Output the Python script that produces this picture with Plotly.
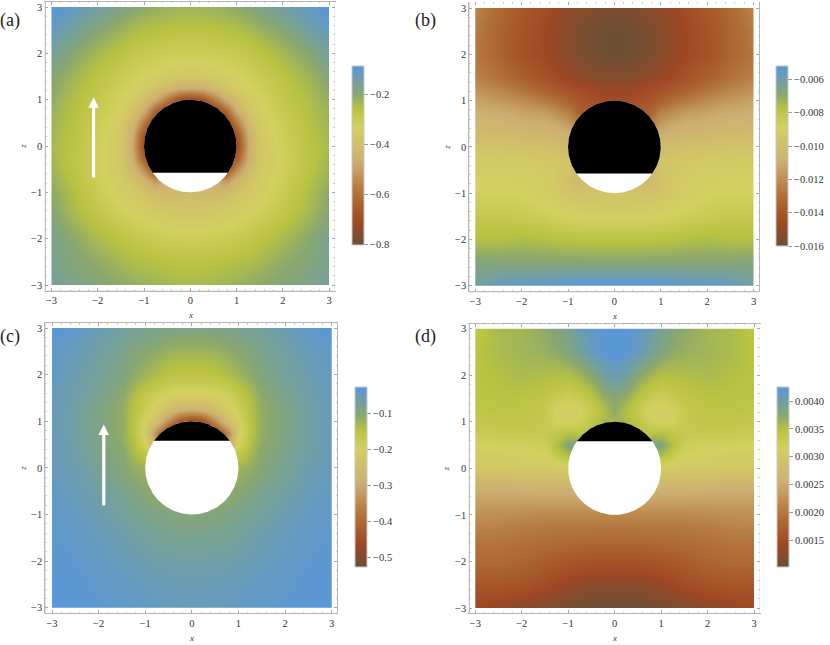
import numpy as np
import plotly.graph_objects as go

X_HALF = [0, .25, .5, .75, 1, 1.25, 1.5, 2, 2.5, 3]
Z_ROWS = [3, 2.5, 2, 1.5, 1.25, 1, .75, .5, .25, 0, -.25, -.5, -.75, -1, -1.25, -1.5, -2, -2.5, -3]

PANEL_A = [
 [-.225,-.225,-.22,-.215,-.205,-.195,-.18,-.145,-.115,-.085],
 [-.265,-.265,-.26,-.255,-.25,-.24,-.225,-.195,-.155,-.115],
 [-.31,-.31,-.305,-.30,-.29,-.28,-.265,-.235,-.20,-.155],
 [-.37,-.365,-.355,-.34,-.33,-.315,-.30,-.265,-.23,-.19],
 [-.47,-.46,-.42,-.38,-.35,-.33,-.315,-.275,-.24,-.20],
 [-.72,-.68,-.58,-.47,-.40,-.35,-.33,-.285,-.25,-.21],
 [-.75,-.75,-.75,-.64,-.47,-.38,-.34,-.295,-.255,-.22],
 [-.75,-.75,-.75,-.75,-.58,-.42,-.355,-.305,-.26,-.225],
 [-.75,-.75,-.75,-.75,-.68,-.46,-.365,-.31,-.265,-.23],
 [-.75,-.75,-.75,-.75,-.72,-.47,-.37,-.315,-.27,-.235],
 [-.75,-.75,-.75,-.75,-.66,-.46,-.37,-.32,-.275,-.23],
 [-.72,-.72,-.72,-.70,-.54,-.42,-.365,-.32,-.27,-.225],
 [-.44,-.44,-.44,-.52,-.44,-.38,-.355,-.31,-.26,-.215],
 [-.42,-.42,-.43,-.41,-.38,-.36,-.345,-.30,-.25,-.205],
 [-.39,-.39,-.385,-.375,-.36,-.345,-.33,-.29,-.245,-.20],
 [-.365,-.365,-.36,-.35,-.34,-.325,-.31,-.275,-.235,-.19],
 [-.31,-.31,-.305,-.30,-.29,-.28,-.265,-.24,-.205,-.17],
 [-.265,-.265,-.26,-.255,-.25,-.245,-.235,-.21,-.19,-.165],
 [-.235,-.235,-.23,-.225,-.22,-.21,-.205,-.19,-.175,-.155],
]

PANEL_B_MILLI = [
 [-15.5,-15.5,-15.4,-15.2,-15,-14.7,-14.4,-13.9,-13.2,-12.3],
 [-15.9,-15.85,-15.7,-15.5,-15.2,-14.9,-14.6,-14.1,-13.4,-12.6],
 [-15.9,-15.85,-15.7,-15.5,-15.2,-14.9,-14.6,-14.2,-13.4,-12.7],
 [-15.3,-15.3,-15.2,-15,-14.8,-14.5,-14.2,-13.6,-12.9,-12.4],
 [-14.8,-14.8,-14.6,-14.4,-14.2,-13.9,-13.6,-12.9,-12.3,-11.9],
 [-14.4,-14.4,-14.2,-14,-13.5,-13,-12.6,-12,-11.6,-11.3],
 [-14,-14,-14,-13.5,-12.4,-12,-11.6,-11.3,-11,-10.9],
 [-13,-13,-13,-12.5,-11.6,-11.1,-10.9,-10.8,-10.6,-10.5],
 [-11.5,-11.5,-11.5,-11,-10.8,-10.5,-10.4,-10.3,-10.2,-10.1],
 [-10.6,-10.6,-10.6,-10.4,-10.2,-10,-9.9,-9.8,-9.7,-9.7],
 [-10,-10,-10,-9.9,-9.7,-9.6,-9.5,-9.4,-9.4,-9.3],
 [-10,-10,-10,-10,-9.7,-9.4,-9.2,-9.1,-9.1,-9.1],
 [-10,-10,-10,-10.3,-9.8,-9.4,-9.1,-9,-8.9,-8.9],
 [-9.6,-9.6,-9.7,-9.8,-9.6,-9.3,-9.1,-8.9,-8.8,-8.8],
 [-9.4,-9.4,-9.4,-9.4,-9.2,-9,-8.9,-8.6,-8.5,-8.5],
 [-9,-9,-9,-9,-8.9,-8.8,-8.6,-8.4,-8.3,-8.2],
 [-7.9,-7.9,-7.9,-7.9,-7.8,-7.8,-7.7,-7.6,-7.7,-7.7],
 [-6.8,-6.8,-6.8,-6.8,-6.8,-6.8,-6.8,-6.8,-6.8,-6.7],
 [-5.2,-5.2,-5.2,-5.25,-5.3,-5.35,-5.4,-5.5,-5.7,-6.1],
]

PANEL_C = [
 [-.09,-.09,-.088,-.085,-.08,-.075,-.07,-.055,-.04,-.028],
 [-.125,-.124,-.12,-.113,-.105,-.098,-.085,-.068,-.052,-.04],
 [-.155,-.155,-.15,-.14,-.125,-.11,-.095,-.075,-.06,-.045],
 [-.215,-.215,-.205,-.195,-.17,-.14,-.11,-.085,-.065,-.05],
 [-.30,-.285,-.25,-.21,-.185,-.145,-.115,-.09,-.07,-.05],
 [-.46,-.43,-.34,-.25,-.20,-.15,-.115,-.09,-.07,-.05],
 [-.50,-.50,-.47,-.36,-.215,-.15,-.115,-.09,-.07,-.05],
 [-.50,-.50,-.50,-.30,-.195,-.14,-.11,-.088,-.068,-.05],
 [-.15,-.15,-.15,-.16,-.155,-.13,-.105,-.085,-.065,-.05],
 [-.12,-.12,-.12,-.12,-.125,-.115,-.10,-.08,-.06,-.05],
 [-.11,-.11,-.11,-.115,-.115,-.105,-.095,-.073,-.057,-.047],
 [-.105,-.105,-.105,-.105,-.105,-.095,-.085,-.068,-.054,-.045],
 [-.105,-.105,-.105,-.105,-.095,-.088,-.078,-.063,-.05,-.042],
 [-.098,-.098,-.096,-.092,-.086,-.08,-.072,-.058,-.047,-.04],
 [-.09,-.09,-.088,-.084,-.078,-.072,-.066,-.054,-.044,-.038],
 [-.082,-.082,-.08,-.077,-.072,-.066,-.06,-.05,-.042,-.036],
 [-.068,-.068,-.066,-.064,-.06,-.056,-.052,-.045,-.038,-.032],
 [-.056,-.056,-.055,-.053,-.05,-.047,-.045,-.04,-.034,-.03],
 [-.05,-.05,-.048,-.047,-.045,-.042,-.04,-.036,-.032,-.028],
]

PANEL_D_MILLI = [
 [4.2,4.2,4.15,4.05,3.9,3.8,3.7,3.6,3.55,3.4],
 [4.25,4.2,4.1,3.95,3.8,3.7,3.65,3.6,3.55,3.45],
 [4.05,3.95,3.75,3.6,3.5,3.5,3.52,3.55,3.5,3.45],
 [3.75,3.65,3.42,3.28,3.22,3.3,3.38,3.45,3.45,3.42],
 [3.7,3.5,3.3,3.12,3.05,3.12,3.32,3.42,3.42,3.4],
 [3.6,3.55,3.4,3.2,3.08,3.15,3.32,3.4,3.38,3.35],
 [3.5,3.5,3.45,3.45,3.5,3.38,3.32,3.32,3.3,3.28],
 [3.6,3.6,3.6,3.85,3.8,3.5,3.22,3.18,3.17,3.15],
 [3.4,3.4,3.4,3.5,3.5,3.3,3.12,3.1,3.08,3.08],
 [3,3,3,3,3.02,3,3,3,3,3],
 [2.8,2.8,2.8,2.8,2.8,2.8,2.8,2.78,2.75,2.72],
 [2.55,2.55,2.55,2.55,2.55,2.55,2.55,2.53,2.52,2.5],
 [2.35,2.35,2.35,2.35,2.35,2.35,2.35,2.35,2.35,2.35],
 [2.15,2.15,2.15,2.15,2.15,2.15,2.15,2.2,2.22,2.25],
 [2,2,2,2,2,2,2.02,2.05,2.1,2.12],
 [1.88,1.88,1.88,1.89,1.9,1.91,1.92,1.95,2,2],
 [1.55,1.55,1.57,1.59,1.62,1.66,1.7,1.8,1.85,1.85],
 [1.25,1.26,1.27,1.31,1.36,1.42,1.48,1.58,1.62,1.6],
 [1.03,1.03,1.05,1.07,1.1,1.14,1.18,1.25,1.35,1.42],
]

AXIS_TICKS = [-3, -2, -1, 0, 1, 2, 3]
AXIS_LABELS = ["−3", "−2", "−1", "0", "1", "2", "3"]

CB_A_VALS = [-.2, -.4, -.6, -.8]
CB_A_TEXT = ["−0.2", "−0.4", "−0.6", "−0.8"]
CB_B_VALS = [-.006, -.008, -.010, -.012, -.014, -.016]
CB_B_TEXT = ["−0.006", "−0.008", "−0.010", "−0.012", "−0.014", "−0.016"]
CB_C_VALS = [-.1, -.2, -.3, -.4, -.5]
CB_C_TEXT = ["−0.1", "−0.2", "−0.3", "−0.4", "−0.5"]
CB_D_VALS = [.0040, .0035, .0030, .0025, .0020, .0015]
CB_D_TEXT = ["0.0040", "0.0035", "0.0030", "0.0025", "0.0020", "0.0015"]

COLORS = [
 [0.00, "rgb(105,80,55)"],
 [0.13, "rgb(160,72,36)"],
 [0.28, "rgb(176,112,54)"],
 [0.47, "rgb(205,175,115)"],
 [0.66, "rgb(211,208,96)"],
 [0.76, "rgb(185,195,65)"],
 [0.84, "rgb(137,167,112)"],
 [1.00, "rgb(88,150,220)"],
]

W, H = 830, 645
FONT = "'Times New Roman', 'Liberation Serif', serif"
TXT = "#333333"
FRAME = "#b4b4b4"

panels = [
 dict(z=np.array(PANEL_A), scale=1, zr=(-.8, -.085), cbv=CB_A_VALS, cbt=CB_A_TEXT,
      frame=(45.3, 334.5, 1.5, 290.7), img=(51.5, 329, 7, 285), bar=(352.3, 65.7, 244.7),
      label="(a)", lab=(10, 20), chord=-.576, arrow=(-2.09, -.71, 1.05), top=True, right=False),
 dict(z=np.array(PANEL_B_MILLI), scale=1e-3, zr=(-.016, -.0052), cbv=CB_B_VALS, cbt=CB_B_TEXT,
      frame=(469.3, 759, 2, 291.7), img=(475.3, 753.5, 8, 285.7), bar=(776.3, 66, 245.7),
      label="(b)", lab=(425, 20), chord=-.576, arrow=None, top=False, right=True),
 dict(z=np.array(PANEL_C), scale=1, zr=(-.527, -.026), cbv=CB_C_VALS, cbt=CB_C_TEXT,
      frame=(45.3, 337.3, 323, 613.3), img=(52, 331.7, 328, 607.7), bar=(355, 387, 567.3),
      label="(c)", lab=(10, 337), chord=.58, arrow=(-1.89, -.84, .93), top=True, right=True),
 dict(z=np.array(PANEL_D_MILLI), scale=1e-3, zr=(.00101, .00425), cbv=CB_D_VALS, cbt=CB_D_TEXT,
      frame=(469.3, 759.7, 323.5, 613.3), img=(475.3, 754, 328.7, 608), bar=(777.3, 387.3, 567.3),
      label="(d)", lab=(425, 337), chord=.58, arrow=None, top=True, right=False),
]

fig = go.Figure()
annotations = []
shapes = []
layout_axes = {}
theta = np.linspace(0, 2 * np.pi, 361)
xs = np.array(X_HALF, float)
xfull = np.r_[-xs[:0:-1], xs]
yfull = np.array(Z_ROWS[::-1], float)


def rect(x0, x1, y0, y1):
    return [x0, x1, x1, x0, x0, None], [y0, y0, y1, y1, y0, None]


def frame_line(x0, y0, x1, y1):
    return dict(type="line", xref="paper", yref="paper", x0=x0 / W, y0=1 - y0 / H, x1=x1 / W, y1=1 - y1 / H,
                line=dict(color=FRAME, width=1))


for i, p in enumerate(panels, 1):
    sx = "" if i == 1 else str(i)
    L, R, T, B = p["frame"]
    a, b, c, d = p["img"]
    kx, ky = (b - a) / 6, (d - c) / 6
    xr = [-3 - (a - L) / kx, 3 + (R - b) / kx]
    yr = [-3 - (B - d) / ky, 3 + (c - T) / ky]
    common = dict(tickvals=AXIS_TICKS, ticktext=AXIS_LABELS, ticks="inside", ticklen=3, tickwidth=1,
                  tickcolor="#a8a8a8", showgrid=False, zeroline=False, showline=True,
                  linewidth=1, mirror="ticks", tickfont=dict(family=FONT, size=10.5, color=TXT),
                  minor=dict(ticks="inside", ticklen=1.5, tickcolor="#cccccc", dtick=.2, showgrid=False))
    layout_axes[f"xaxis{sx}"] = dict(domain=[L / W, R / W], range=xr, anchor=f"y{sx}",
                                     linecolor=FRAME if p["top"] else "white", **common)
    layout_axes[f"yaxis{sx}"] = dict(domain=[1 - B / H, 1 - T / H], range=yr, anchor=f"x{sx}",
                                     linecolor=FRAME if p["right"] else "white", **common)
    if not p["top"]:
        shapes.append(frame_line(L, B, R, B))
    if not p["right"]:
        shapes.append(frame_line(L, T, L, B))

    rows = p["z"][::-1]
    zfull = np.hstack([rows[:, :0:-1], rows]) * p["scale"]
    bx, bt, bb = p["bar"]
    fig.add_trace(go.Heatmap(
        x=xfull, y=yfull, z=zfull, zsmooth="best", colorscale=COLORS,
        zmin=p["zr"][0], zmax=p["zr"][1], hoverinfo="skip", xaxis=f"x{sx}", yaxis=f"y{sx}",
        colorbar=dict(x=bx / W, xanchor="left", xpad=0, y=1 - bt / H, yanchor="top", ypad=0,
                      thickness=12, thicknessmode="pixels", len=bb - bt, lenmode="pixels",
                      outlinecolor="#c8c8c8", outlinewidth=1, borderwidth=0,
                      tickvals=p["cbv"], ticktext=p["cbt"], ticks="outside", ticklen=4,
                      tickcolor="#999999", tickwidth=1,
                      tickfont=dict(family=FONT, size=10.5, color=TXT))))

    # white margin between the density image and the frame
    mx, my = [], []
    for r in (rect(xr[0], -3, yr[0], yr[1]), rect(3, xr[1], yr[0], yr[1]),
              rect(xr[0], xr[1], yr[0], -3), rect(xr[0], xr[1], 3, yr[1])):
        mx += r[0]
        my += r[1]
    fig.add_trace(go.Scatter(x=mx, y=my, mode="lines", fill="toself", fillcolor="white",
                             line=dict(width=0), hoverinfo="skip", showlegend=False,
                             xaxis=f"x{sx}", yaxis=f"y{sx}"))

    fig.add_trace(go.Scatter(x=np.cos(theta), y=np.sin(theta), mode="lines", fill="toself",
                             fillcolor="white", line=dict(width=0), hoverinfo="skip",
                             showlegend=False, xaxis=f"x{sx}", yaxis=f"y{sx}"))
    half = np.sqrt(1 - p["chord"] ** 2)
    angs = np.arctan2(p["chord"], half)
    t = np.linspace(angs, np.pi - angs, 240)
    fig.add_trace(go.Scatter(x=np.r_[np.cos(t), np.cos(t[0])], y=np.r_[np.sin(t), np.sin(t[0])],
                             mode="lines", fill="toself", fillcolor="black", line=dict(width=0),
                             hoverinfo="skip", showlegend=False, xaxis=f"x{sx}", yaxis=f"y{sx}"))

    annotations.append(dict(text=p["label"], x=p["lab"][0] / W, y=1 - p["lab"][1] / H, xref="paper", yref="paper",
                            xanchor="center", yanchor="middle", showarrow=False,
                            font=dict(family=FONT, size=18, color="#222222")))
    annotations.append(dict(text="<i>x</i>", x=(a + b) / 2 / W, y=1 - (B + 24.5) / H, xref="paper", yref="paper",
                            xanchor="center", yanchor="middle", showarrow=False,
                            font=dict(family=FONT, size=9, color=TXT)))
    annotations.append(dict(text="<i>z</i>", x=(L - 22.5) / W, y=1 - (c + d) / 2 / H, xref="paper", yref="paper",
                            xanchor="center", yanchor="middle", textangle=-90, showarrow=False,
                            font=dict(family=FONT, size=9, color=TXT)))
    if p["arrow"]:
        ax, z0, z1 = p["arrow"]
        annotations.append(dict(x=ax, y=z1, ax=ax, ay=z0, xref=f"x{sx}", yref=f"y{sx}", axref=f"x{sx}", ayref=f"y{sx}",
                                text="", showarrow=True, arrowhead=2, arrowsize=.65, arrowwidth=3.2, arrowcolor="white",
                                standoff=0, startstandoff=0))

fig.update_layout(width=W, height=H, margin=dict(l=0, r=0, t=0, b=0), paper_bgcolor="white",
                  plot_bgcolor="white", showlegend=False, annotations=annotations, shapes=shapes, **layout_axes)

fig.write_html("out.html", config=dict(displayModeBar=False),
               post_script="document.body.style.margin='0';document.body.style.overflow='hidden';")
